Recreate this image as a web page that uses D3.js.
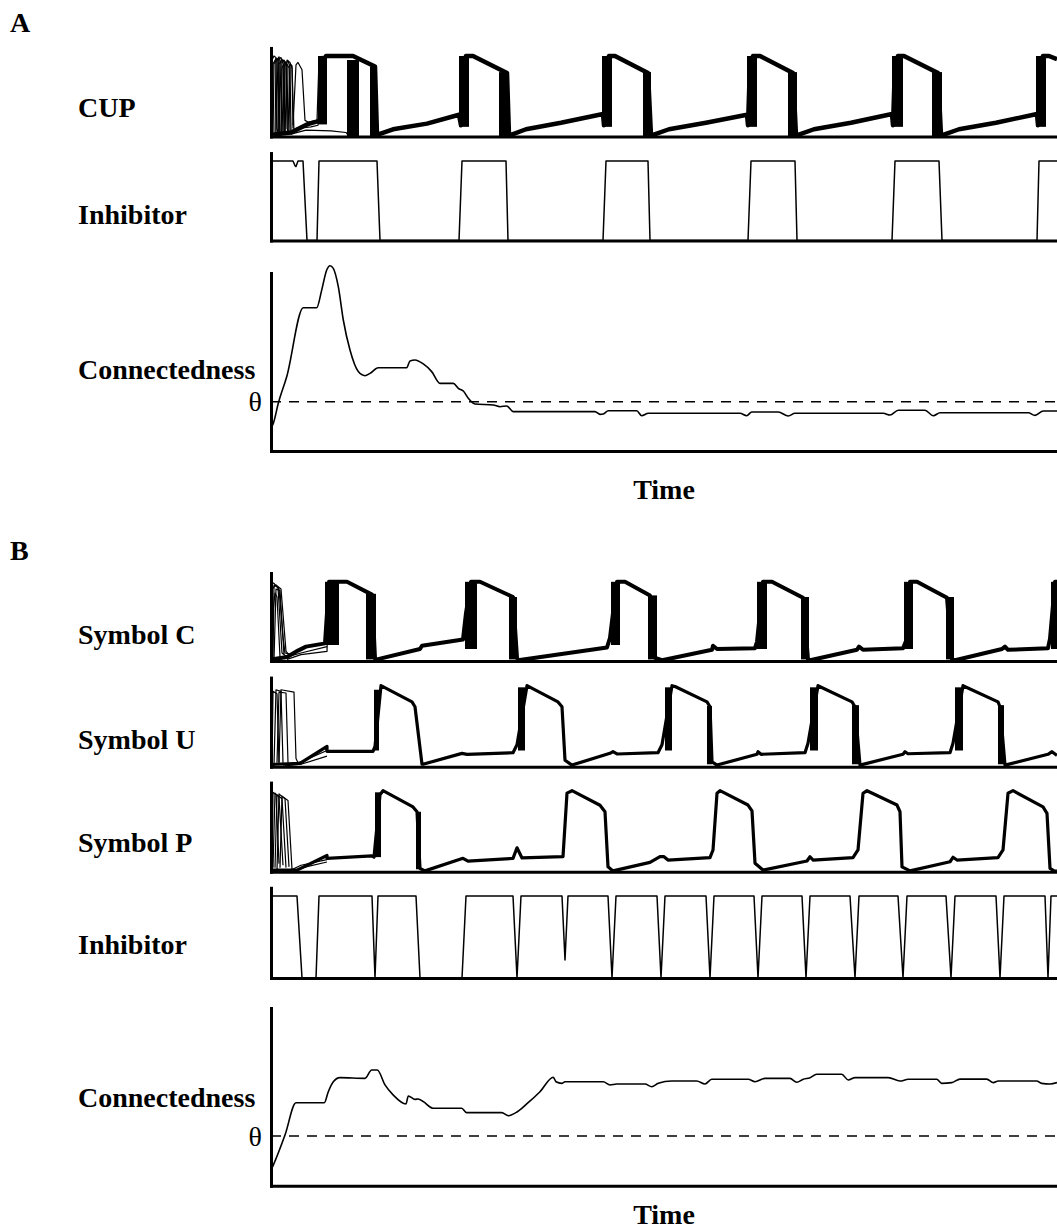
<!DOCTYPE html>
<html>
<head>
<meta charset="utf-8">
<script src="https://cdn.jsdelivr.net/npm/d3@7"></script>
<style>
  body { margin: 0; background: #fff; }
  text { font-family: "Liberation Serif", "Times New Roman", serif; fill: #000; }
</style>
</head>
<body>
<svg id="chart" width="1057" height="1230"></svg>
<script>
// time runs 0..786 (arbitrary units), activation runs 0..1, connectedness 0..100
const timeDomain = [0, 786];

// ---------- panel A ----------
const cupMain = [[0,0.02],[20,0.05],[36,0.15],[50,0.2],[52,0.95],[55,1.0],[82,1.0],[104,0.87],[106,0.02],
  [122,0.09],[156,0.16],[188,0.27],[190,0.14],[192,0.9],[195,1.0],[202,1.0],[236,0.79],[238,0.01],
  [255,0.09],[290,0.17],[332,0.28],[333,0.14],[335,0.9],[338,1.0],[344,1.0],[377,0.79],[380,0.01],
  [398,0.09],[435,0.17],[476,0.27],[477,0.14],[479,0.9],[482,1.0],[489,1.0],[522,0.79],[525,0.01],
  [543,0.09],[580,0.17],[621,0.28],[622,0.14],[624,0.9],[627,1.0],[633,1.0],[667,0.79],[670,0.01],
  [688,0.09],[725,0.17],[766,0.28],[767,0.14],[769,0.9],[772,1.0],[778,1.0],[786,0.96]];
const cupBundles = [[47,56,0.15,1.0],[76,88,0.0,0.95],[99,106,0.0,0.87],
  [188,198,0.12,1.0],[228,238,0.0,0.8],[331,341,0.12,1.0],[372,380,0.0,0.8],
  [476,486,0.12,1.0],[517,526,0.0,0.8],[621,632,0.12,1.0],[661,671,0.0,0.8],[765,775,0.12,1.0]];
const cupTransients = [
  [[0,0.05],[1,0.95],[3,1.0],[5,0.98],[6,0.1],[7,0.05]],
  [[1,0.0],[2,0.9],[5,0.97],[7,0.95],[8,0.05]],
  [[2,0.0],[3,0.9],[6,0.97],[8,0.95],[9,0.05]],
  [[4,0.02],[5,0.93],[8,0.99],[10,0.9],[11,0.03]],
  [[5,0.02],[7,0.96],[10,0.98],[12,0.9],[13,0.05]],
  [[7,0.0],[8,0.9],[11,0.96],[13,0.92],[14,0.05]],
  [[8,0.02],[10,0.92],[13,0.95],[15,0.9],[16,0.1],[18,0.05]],
  [[10,0.0],[11,0.85],[14,0.93],[16,0.88],[17,0.06]],
  [[11,0.05],[13,0.88],[16,0.9],[18,0.85],[19,0.05]],
  [[13,0.03],[14,0.9],[17,0.94],[19,0.86],[20,0.08]],
  [[14,0.02],[16,0.95],[19,0.92],[21,0.85],[22,0.1]],
  [[17,0.05],[19,0.9],[21,0.88],[23,0.05]],
  [[22,0.14],[25,0.89],[27,0.92],[31,0.83],[34,0.2],[37,0.18],[46,0.2],[48,0.95],[51,1.0]],
  [[20,0.03],[35,0.08],[60,0.07],[75,0.05],[78,0.0]],
  [[25,0.1],[40,0.12],[47,0.14],[49,0.9],[52,1.0]]];
const inhibitorA = [[0,1],[22,1],[24,0.94],[25,0.93],[27,1],[32,1],[36,0],[46,0],[48,1],[106,1],[109,0],
  [188,0],[191,1],[235,1],[237,0],[332,0],[335,1],[377,1],[379,0],[477,0],[480,1],[524,1],[526,0],
  [621,0],[624,1],[668,1],[671,0],[766,0],[768,1],[786,1]];
const connA = [[0,13],[2.3,15.5],[7.3,26.8],[15.7,41.7],[32.3,80.5],[45.7,80.5],[50.7,90.4],[55.7,101.7],
  [59,104.1],[62.3,102.6],[67.3,92.3],[72.3,73.6],[79,56.7],[87.3,44.6],[94,42.3],[99,43.6],[107.3,46.8],
  [135.7,46.8],[139,50.6],[144,51.1],[152.3,48.9],[160.7,44.6],[169,38.0],[182.3,38.0],[187.3,35.2],
  [192.3,33.7],[197.3,29.6],[204,26.4],[222.3,25.8],[229,24.9],[235.7,25.3],[242.3,22.1],[324,22.1],
  [329,20.6],[332.3,20.8],[337.3,22.6],[365.7,22.6],[370.7,19.8],[377.3,21.2],[469,21.2],[475.7,19.8],
  [480.7,21.9],[507.3,21.9],[517.3,19.7],[524,21.2],[612.3,21.2],[619,20.2],[627.3,22.9],[654,22.9],
  [662.3,19.8],[669,21.5],[757.3,21.5],[764,20.0],[772.3,22.5],[786,22.5]];
const thetaA = 27.7;

// ---------- panel B ----------
const symCMain = [[0,0.02],[16,0.05],[27,0.13],[35,0.18],[54,0.22],[56,0.6],[58,0.99],[76,0.99],[101,0.83],[104,0.03],
  [106,0.02],[149,0.15],[151,0.19],[192,0.27],[195,0.6],[200,0.99],[209,0.99],[242,0.8],[246,0.04],
  [247,0.01],[336,0.17],[339,0.29],[342,0.6],[346,0.99],[354,0.99],[379,0.82],[384,0.04],
  [391,0.01],[441,0.14],[442,0.19],[446,0.15],[484,0.16],[486,0.24],[489,0.6],[492,0.99],[501,0.99],[532,0.79],[537,0.02],
  [539,0.01],[586,0.14],[588,0.18],[592,0.14],[632,0.16],[635,0.25],[637,0.6],[639,0.99],[646,0.99],[676,0.79],[681,0.02],
  [684,0.01],[731,0.15],[734,0.18],[737,0.14],[777,0.16],[779,0.28],[782,0.7],[784,0.99],[786,0.99]];
const symCBundles = [[54,68,0.2,0.99],[95,105,0.02,0.84],[194,206,0.15,0.99],[238,246,0.02,0.8],
  [340,349,0.2,0.99],[377,386,0.02,0.82],[486,496,0.15,0.99],[530,538,0.02,0.8],
  [633,642,0.15,0.99],[675,683,0.02,0.8],[780,786,0.15,0.99]];
const symCTransients = [
  [[1,0.98],[3,0.97],[8,0.9],[12,0.3],[14,0.1],[20,0.08]],
  [[1,0.9],[5,0.95],[10,0.9],[15,0.12],[18,0.08]],
  [[2,0.0],[3,0.95],[7,0.92],[11,0.1],[16,0.05]],
  [[1,0.5],[4,0.85],[6,0.8],[9,0.05]],
  [[3,0.02],[5,0.9],[9,0.88],[13,0.08]],
  [[0,0.05],[6,0.03],[16,0.05],[30,0.1],[56,0.18]],
  [[16,0.02],[30,0.08],[56,0.12],[58,0.99]]];

const symUMain = [[0,0.02],[4,0.03],[29,0.04],[56,0.25],[56,0.19],[102,0.19],[104,0.25],[110,1.0],[141,0.8],[144,0.74],[151,0.03],
  [152,0.03],[191,0.165],[196,0.153],[242,0.173],[246,0.27],[256,1.0],[287,0.8],[291,0.74],[294,0.08],[301,0.02],
  [339,0.165],[342,0.185],[346,0.157],[387,0.173],[391,0.27],[401,1.0],[404,0.99],[436,0.8],[439,0.74],[441,0.06],[446,0.02],
  [486,0.153],[487,0.185],[490,0.153],[534,0.173],[537,0.29],[547,1.0],[581,0.8],[584,0.74],[589,0.02],
  [632,0.153],[634,0.185],[637,0.16],[679,0.173],[682,0.29],[692,1.0],[727,0.8],[729,0.74],[734,0.02],
  [777,0.153],[781,0.185],[786,0.14]];
const symUBundles = [[103,108,0.2,0.95],[247,254,0.2,0.98],[394,401,0.2,0.98],[436,441,0.03,0.75],
  [539,547,0.2,0.98],[581,588,0.03,0.76],[684,692,0.2,0.98],[727,733,0.03,0.76]];
const symUTransients = [
  [[1,0.02],[2,0.93],[6,0.9],[8,0.05]],
  [[3,0.02],[5,0.95],[10,0.93],[12,0.05]],
  [[6,0.05],[8,0.92],[15,0.91],[17,0.05]],
  [[8,0.05],[10,0.95],[23,0.92],[25,0.1],[27,0.05]],
  [[12,0.02],[30,0.06],[56,0.2]],
  [[14,0.01],[30,0.03],[56,0.13]]];

const symPMain = [[0,0.02],[26,0.02],[56,0.2],[56,0.165],[101,0.195],[103,0.18],[109,0.95],[112,1.0],[142,0.8],[146,0.74],[149,0.04],[154,0.01],
  [192,0.165],[197,0.13],[242,0.165],[246,0.295],[251,0.17],[292,0.185],[296,0.97],[301,1.0],[329,0.82],[334,0.74],[337,0.06],[342,0.01],
  [379,0.115],[389,0.185],[393,0.185],[397,0.144],[439,0.173],[442,0.268],[446,0.968],[449,1.0],[477,0.823],[481,0.75],[484,0.105],[492,0.02],
  [536,0.132],[539,0.185],[542,0.144],[582,0.173],[587,0.268],[592,0.968],[596,1.0],[626,0.823],[629,0.74],[631,0.06],[639,0.01],
  [679,0.123],[682,0.178],[686,0.144],[727,0.173],[732,0.268],[737,0.968],[742,1.0],[772,0.8],[776,0.72],[779,0.04],[784,0.005],[786,0.01]];
const symPBundles = [[104,110,0.18,0.98],[145,150,0.03,0.74]];
const symPTransients = [
  [[1,0.02],[2,0.98],[5,0.95],[8,0.1]],
  [[2,0.05],[4,0.97],[8,0.92],[12,0.08]],
  [[4,0.05],[6,0.95],[11,0.9],[15,0.05]],
  [[6,0.02],[8,0.96],[14,0.9],[18,0.06]],
  [[9,0.05],[11,0.93],[17,0.88],[21,0.03]],
  [[20,0.02],[30,0.08],[56,0.15]],
  [[22,0.0],[35,0.06],[56,0.12]]];

const inhibitorB = [[0,1],[26,1],[31,0],[45,0],[48,1],[101,1],[104,0],[107,1],[145,1],[149,0],[191,0],[195,1],
  [242,1],[246,0],[250,1],[291,1],[294,0.22],[297,1],[337,1],[341,0],[345,1],[386,1],[390,0],[394,1],
  [435,1],[439,0],[443,1],[483,1],[487,0],[491,1],[531,1],[535,0],[539,1],[579,1],[584,0],[588,1],
  [627,1],[632,0],[636,1],[675,1],[680,0],[684,1],[725,1],[729,0],[733,1],[774,1],[777,0],[780,1],[786,1]];
const connB = [[0,8.8],[2.3,11.6],[14,28.5],[25,46.7],[53.3,46.7],[57.3,52.9],[62.3,58.5],[69,60.8],[94,60.4],
  [100.7,65.1],[106.3,65.1],[114,56.7],[122.3,51.0],[135,46.0],[137.3,50.5],[144,48.6],[147.3,48.8],[152.3,47.3],
  [162.3,43.6],[190.7,43.6],[195.7,41.1],[230.7,41.1],[237.3,39.4],[246.3,41.6],[255.7,46.0],[269,52.9],
  [282.3,61.0],[285,58.5],[290.7,57.6],[294,58.5],[332.3,58.5],[339,56.7],[345.7,57.2],[374,57.2],[380.7,55.7],
  [387.3,57.6],[400.7,58.9],[425.7,58.9],[434,57.2],[440.7,59.9],[477.3,59.9],[484,58.5],[494,60.4],[519,60.4],
  [525.7,58.2],[532.3,59.9],[539,60.8],[545.7,62.7],[570.7,62.7],[577.3,59.5],[584,60.8],[617.3,60.8],[629,58.9],
  [637.3,59.9],[665.7,59.9],[670.7,57.6],[680.7,58.0],[689,60.0],[715.7,60.0],[722.3,58.0],[727.3,58.9],
  [765.7,58.9],[770.7,57.6],[779,57.2],[786,58.0]];
const thetaB = 28;

// ---------- drawing ----------
const svg = d3.select("#chart");
const x = d3.scaleLinear().domain(timeDomain).range([271, 1057]);

function actScale(base, h) {
  return d3.scaleLinear().domain([0, 1.1]).range([base, base - 1.1 * h]);
}
function connScale(base, top) {
  return d3.scaleLinear().domain([0, 100]).range([base, top]);
}

function drawAxes(y) {
  const gl = svg.append("g").attr("transform", "translate(" + x.range()[0] + ",0)")
    .call(d3.axisLeft(y).tickValues([]).tickSizeOuter(0));
  const gb = svg.append("g").attr("transform", "translate(0," + y.range()[0] + ")")
    .call(d3.axisBottom(x).tickValues([]).tickSizeOuter(0));
  [gl, gb].forEach(g => g.select(".domain").attr("stroke", "#000").attr("stroke-width", 3)
    .attr("stroke-linecap", "square"));
}

function drawLine(y, data, width, curve) {
  const line = d3.line().x(d => x(d[0])).y(d => y(d[1])).curve(curve || d3.curveLinear);
  svg.append("path").datum(data).attr("d", line).attr("fill", "none")
    .attr("stroke", "#000").attr("stroke-width", width).attr("stroke-linejoin", "round");
}

function drawSignal(y, main, bundles, transients, width) {
  transients.forEach(tr => drawLine(y, tr, 1.2));
  svg.append("g").selectAll("rect").data(bundles).join("rect")
    .attr("x", d => x(d[0])).attr("width", d => x(d[1]) - x(d[0]))
    .attr("y", d => y(d[3])).attr("height", d => y(d[2]) - y(d[3]))
    .attr("fill", "#000");
  drawLine(y, main, width);
  drawAxes(y);
}

function drawConn(y, data, theta) {
  svg.append("line").attr("x1", x(0)).attr("x2", x(timeDomain[1]))
    .attr("y1", y(theta)).attr("y2", y(theta))
    .attr("stroke", "#000").attr("stroke-width", 1.6).attr("stroke-dasharray", "10,8");
  drawLine(y, data, 1.6, d3.curveMonotoneX);
  drawAxes(y);
}

function label(txt, px, py, size, weight, anchor) {
  svg.append("text").attr("x", px).attr("y", py).text(txt)
    .attr("font-size", size).attr("font-weight", weight || "bold")
    .attr("text-anchor", anchor || "start");
}

// panel A
drawSignal(actScale(136.5, 80.5), cupMain, cupBundles, cupTransients, 4.5);
drawSignal(actScale(240.5, 79.5), inhibitorA, [], [], 1.5);
drawConn(connScale(451, 273), connA, thetaA);

// panel B
drawSignal(actScale(661, 80), symCMain, symCBundles, symCTransients, 4);
drawSignal(actScale(766.7, 81), symUMain, symUBundles, symUTransients, 3.2);
drawSignal(actScale(871.7, 81), symPMain, symPBundles, symPTransients, 3.2);
drawSignal(actScale(978, 82), inhibitorB, [], [], 1.5);
drawConn(connScale(1185.7, 1008), connB, thetaB);

// labels
label("A", 10, 32, 28);
label("CUP", 78, 117, 28);
label("Inhibitor", 78, 224, 28);
label("Connectedness", 78, 379, 28);
label("θ", 262, 411, 28, "normal", "end");
label("Time", 664, 499, 28, "bold", "middle");

label("B", 10, 560, 28);
label("Symbol C", 78, 644, 28);
label("Symbol U", 78, 749, 28);
label("Symbol P", 78, 852, 28);
label("Inhibitor", 78, 954, 28);
label("Connectedness", 78, 1107, 28);
label("θ", 262, 1146, 28, "normal", "end");
label("Time", 664, 1224, 28, "bold", "middle");
</script>
</body>
</html>
